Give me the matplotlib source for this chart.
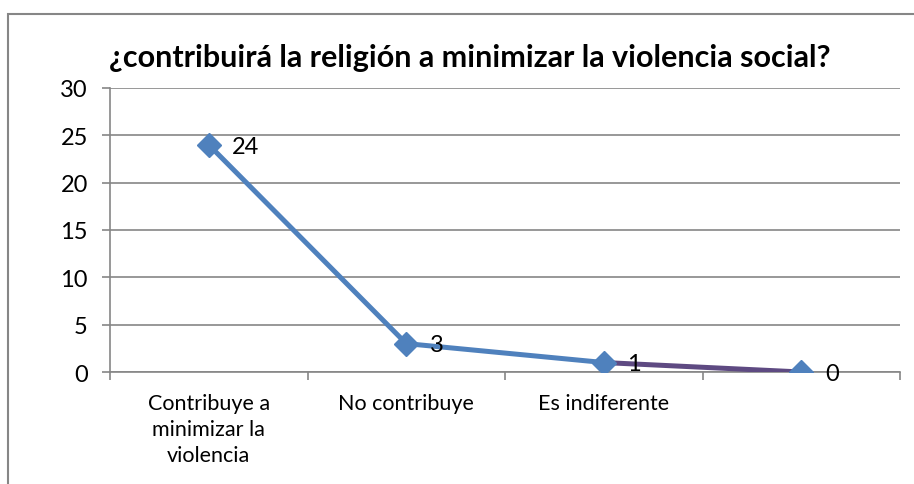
import matplotlib.pyplot as plt
from matplotlib.patches import Rectangle

# Datos
categorias = ["Contribuye a\nminimizar la\nviolencia", "No contribuye", "Es indiferente", ""]
valores = [24, 3, 1, 0]
y_ticks = [0, 5, 10, 15, 20, 25, 30]
titulo = "¿contribuirá la religión a minimizar la violencia social?"

plt.rcParams['font.family'] = ['Lato', 'DejaVu Sans']

azul = "#4F81BD"
morado = "#5E4A82"
gris = "#868686"

fig = plt.figure(figsize=(9.14, 4.85), dpi=100)
ax = fig.add_axes([110/914, 1 - 373/485, 790/914, 284/485])

x = list(range(len(valores)))
ax.plot(x[:3], valores[:3], color=azul, lw=3.6, solid_capstyle="round", zorder=3)
ax.plot(x[2:], valores[2:], color=morado, lw=3.6, solid_capstyle="round", zorder=3)
ax.plot(x, valores, ls="none", marker="D", ms=12.5, color=azul, zorder=4)

for xi, v in zip(x, valores):
    ax.annotate(str(v), (xi, v), xytext=(17, -1), textcoords="offset points",
                ha="left", va="center", fontsize=17, zorder=5)

ax.set_xlim(-0.5, len(valores) - 0.5)
ax.set_ylim(0, 30)
ax.set_yticks(y_ticks)
ax.set_xticks([i - 0.5 for i in range(len(valores) + 1)])
ax.set_xticklabels([])
ax.set_xticks(x, minor=True)
ax.set_xticklabels(categorias, minor=True, fontsize=15.5, linespacing=1.38)
ax.tick_params(axis="x", which="minor", length=0, pad=15)
ax.tick_params(axis="x", which="major", length=6, color=gris, width=1.2)
ax.tick_params(axis="y", length=6, color=gris, width=1.2, labelsize=17, pad=10)

ax.grid(axis="y", color=gris, lw=1.2)
ax.set_axisbelow(True)
for s in ["top", "right"]:
    ax.spines[s].set_visible(False)
for s in ["left", "bottom"]:
    ax.spines[s].set_color(gris)
    ax.spines[s].set_linewidth(1.2)

fig.text(470/914, 1 - 58/485, titulo, ha="center", va="center",
         fontsize=22, fontweight="bold")

# marco del grafico
fig.add_artist(Rectangle((8/914, -0.1), 1.1, 1 - 15/485 + 0.1, transform=fig.transFigure,
                         fill=False, ec=gris, lw=1.5, clip_on=False))

fig.savefig("out.png", dpi=100)
